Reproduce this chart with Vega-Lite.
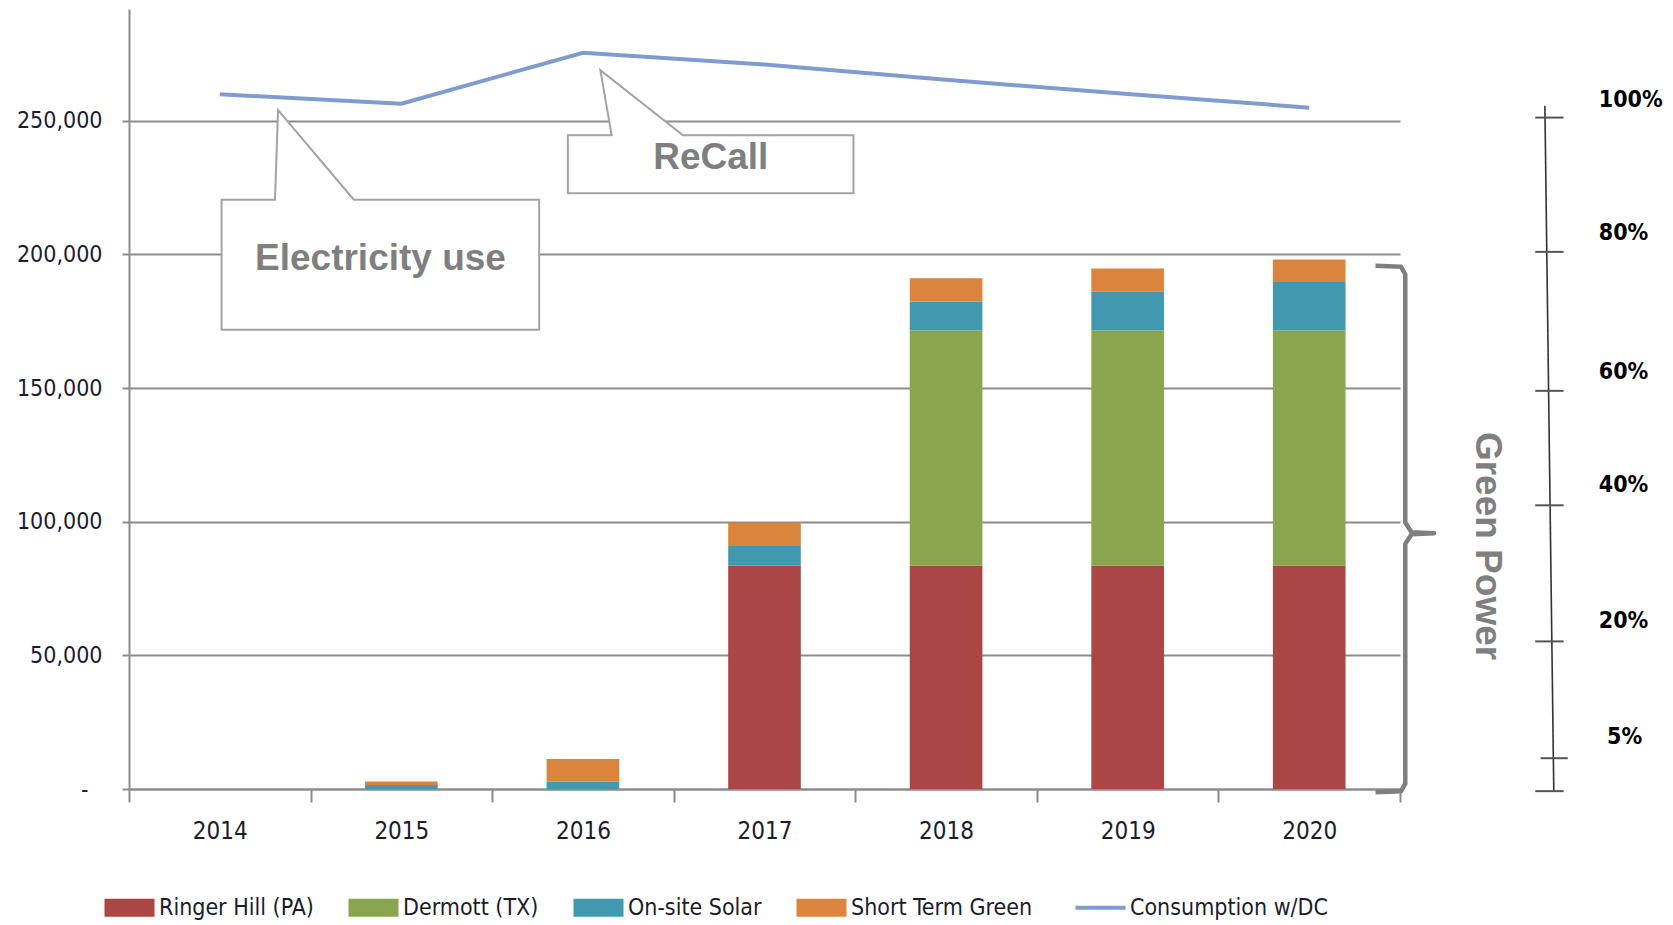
{
  "$schema": "https://vega.github.io/schema/vega-lite/v6.json",
  "width": 1271,
  "height": 780,
  "autosize": {"type": "none"},
  "padding": {"left": 129, "top": 9, "right": 273, "bottom": 136},
  "background": "white",
  "datasets": {
    "green": [
      {"year": "2015", "source": "On-site Solar", "stack_rank": 3, "value": 1500},
      {"year": "2015", "source": "Short Term Green", "stack_rank": 4, "value": 1350},
      {"year": "2016", "source": "On-site Solar", "stack_rank": 3, "value": 2700},
      {"year": "2016", "source": "Short Term Green", "stack_rank": 4, "value": 8500},
      {"year": "2017", "source": "Ringer Hill (PA)", "stack_rank": 1, "value": 83600},
      {"year": "2017", "source": "On-site Solar", "stack_rank": 3, "value": 7300},
      {"year": "2017", "source": "Short Term Green", "stack_rank": 4, "value": 8700},
      {"year": "2018", "source": "Ringer Hill (PA)", "stack_rank": 1, "value": 83600},
      {"year": "2018", "source": "Dermott (TX)", "stack_rank": 2, "value": 87900},
      {"year": "2018", "source": "On-site Solar", "stack_rank": 3, "value": 10900},
      {"year": "2018", "source": "Short Term Green", "stack_rank": 4, "value": 8700},
      {"year": "2019", "source": "Ringer Hill (PA)", "stack_rank": 1, "value": 83600},
      {"year": "2019", "source": "Dermott (TX)", "stack_rank": 2, "value": 87900},
      {"year": "2019", "source": "On-site Solar", "stack_rank": 3, "value": 14600},
      {"year": "2019", "source": "Short Term Green", "stack_rank": 4, "value": 8600},
      {"year": "2020", "source": "Ringer Hill (PA)", "stack_rank": 1, "value": 83600},
      {"year": "2020", "source": "Dermott (TX)", "stack_rank": 2, "value": 87900},
      {"year": "2020", "source": "On-site Solar", "stack_rank": 3, "value": 18200},
      {"year": "2020", "source": "Short Term Green", "stack_rank": 4, "value": 8400}
    ],
    "consumption": [
      {"year": "2014", "value": 259900},
      {"year": "2015", "value": 256400},
      {"year": "2016", "value": 275400},
      {"year": "2017", "value": 271000},
      {"year": "2018", "value": 265300},
      {"year": "2019", "value": 260000},
      {"year": "2020", "value": 254900}
    ],
    "callouts": [
      {"id": "elec", "i": 0, "u": 2014.010, "value": 220480},
      {"id": "elec", "i": 1, "u": 2014.304, "value": 220480},
      {"id": "elec", "i": 2, "u": 2014.321, "value": 253970},
      {"id": "elec", "i": 3, "u": 2014.738, "value": 220480},
      {"id": "elec", "i": 4, "u": 2015.759, "value": 220480},
      {"id": "elec", "i": 5, "u": 2015.759, "value": 171840},
      {"id": "elec", "i": 6, "u": 2014.010, "value": 171840},
      {"id": "recall", "i": 0, "u": 2015.917, "value": 244600},
      {"id": "recall", "i": 1, "u": 2016.158, "value": 244600},
      {"id": "recall", "i": 2, "u": 2016.096, "value": 268920},
      {"id": "recall", "i": 3, "u": 2016.551, "value": 244600},
      {"id": "recall", "i": 4, "u": 2017.490, "value": 244600},
      {"id": "recall", "i": 5, "u": 2017.490, "value": 222870},
      {"id": "recall", "i": 6, "u": 2015.917, "value": 222870}
    ],
    "callout_text": [
      {"label": "Electricity use", "u": 2014.885, "value": 198150},
      {"label": "ReCall", "u": 2016.704, "value": 236030}
    ],
    "bracket": [
      {"i": 0, "u": 2020.365, "value": 195760},
      {"i": 1, "u": 2020.506, "value": 195360},
      {"i": 2, "u": 2020.529, "value": 192570},
      {"i": 3, "u": 2020.529, "value": 99680},
      {"i": 4, "u": 2020.564, "value": 96090},
      {"i": 5, "u": 2020.688, "value": 95690},
      {"i": 6, "u": 2020.564, "value": 95290},
      {"i": 7, "u": 2020.529, "value": 91700},
      {"i": 8, "u": 2020.529, "value": 1990},
      {"i": 9, "u": 2020.506, "value": -800},
      {"i": 10, "u": 2020.365, "value": -1200}
    ],
    "green_power": [
      {"label": "Green Power", "u": 2020.981, "value": 90900}
    ],
    "pct_axis": [
      {"u": 2021.298, "u2": 2021.347, "value": 255570, "value2": -800}
    ],
    "pct_ticks": [
      {"pct": "100%", "u": 2021.245, "u2": 2021.401, "value": 251180},
      {"pct": "80%", "u": 2021.245, "u2": 2021.401, "value": 200940},
      {"pct": "60%", "u": 2021.245, "u2": 2021.401, "value": 148950},
      {"pct": "40%", "u": 2021.245, "u2": 2021.401, "value": 106130},
      {"pct": "20%", "u": 2021.245, "u2": 2021.401, "value": 55220},
      {"pct": "5%", "u": 2021.274, "u2": 2021.424, "value": 11520},
      {"pct": "0", "u": 2021.245, "u2": 2021.401, "value": -800}
    ],
    "pct_labels": [
      {"pct": "100%", "u": 2021.595, "value": 257880},
      {"pct": "80%", "u": 2021.595, "value": 208000},
      {"pct": "60%", "u": 2021.595, "value": 156010},
      {"pct": "40%", "u": 2021.595, "value": 113710},
      {"pct": "20%", "u": 2021.595, "value": 62990},
      {"pct": "5%", "u": 2021.640, "value": 19460}
    ]
  },
  "layer": [
    {
      "layer": [
        {
          "data": {"name": "green"},
          "mark": {"type": "bar", "width": {"band": 0.4}},
          "encoding": {
            "x": {
              "field": "year", "type": "ordinal",
              "scale": {"domain": ["2014", "2015", "2016", "2017", "2018", "2019", "2020"], "paddingInner": 0, "paddingOuter": 0},
              "axis": {"title": null, "tickBand": "extent", "labelAngle": 0, "tickSize": 13, "labelPadding": 17, "grid": false, "labelFontSize": 24}
            },
            "y": {
              "field": "value", "type": "quantitative", "stack": "zero", "title": null,
              "scale": {"domain": [0, 291800], "nice": false},
              "axis": {
                "values": [0, 50000, 100000, 150000, 200000, 250000],
                "tickSize": 7, "grid": true, "labelFontSize": 23,
                "labelPadding": {"condition": {"test": "datum.value === 0", "value": 34}, "value": 20},
                "labelExpr": "datum.value === 0 ? '-' : format(datum.value, ',')"
              }
            },
            "order": {"field": "stack_rank", "type": "quantitative", "sort": "ascending"},
            "color": {
              "field": "source", "type": "nominal",
              "scale": {
                "domain": ["Ringer Hill (PA)", "Dermott (TX)", "On-site Solar", "Short Term Green", "Consumption w/DC"],
                "range": ["#aa4643", "#89a54e", "#4198af", "#db843d", "#7f9bd0"]
              },
              "legend": {
                "title": null, "orient": "none", "legendX": -11, "legendY": 887,
                "direction": "horizontal", "columns": 5,
                "symbolSize": 2500, "symbolType": "M-1,-0.36H1V0.36H-1Z",
                "labelFont": "DejaVu Sans Condensed", "labelFontSize": 23, "labelColor": "#1c1c2c",
                "labelOffset": 18, "columnPadding": 34, "labelLimit": 400, "padding": 0,
                "encode": {
                  "symbols": {
                    "update": {
                      "shape": {"signal": "datum.value === 'Consumption w/DC' ? 'stroke' : 'M-1,-0.36H1V0.36H-1Z'"},
                      "fill": {"signal": "datum.value === 'Consumption w/DC' ? 'transparent' : scale('color', datum.value)"},
                      "stroke": {"signal": "scale('color', datum.value)"},
                      "strokeWidth": {"signal": "datum.value === 'Consumption w/DC' ? 4 : 0"},
                      "opacity": {"value": 1}
                    }
                  }
                }
              }
            }
          }
        },
        {
          "data": {"name": "consumption"},
          "mark": {"type": "line", "strokeWidth": 4},
          "encoding": {
            "x": {"field": "year", "type": "ordinal"},
            "y": {"field": "value", "type": "quantitative", "title": null},
            "color": {"datum": "Consumption w/DC"}
          }
        }
      ]
    },
    {
      "layer": [
        {
          "data": {"name": "callouts"},
          "mark": {"type": "line", "interpolate": "linear-closed", "fill": "white", "stroke": "#a3a3a3", "strokeWidth": 2},
          "encoding": {
            "x": {"field": "u", "type": "quantitative", "scale": {"domain": [2013.5, 2020.5], "nice": false, "zero": false}, "axis": null},
            "y": {"field": "value", "type": "quantitative", "title": null},
            "detail": {"field": "id"},
            "order": {"field": "i"}
          }
        },
        {
          "data": {"name": "callout_text"},
          "mark": {"type": "text", "font": "Liberation Sans", "fontSize": 37, "fontWeight": "bold", "color": "#7f7f7f", "align": "center", "baseline": "middle"},
          "encoding": {
            "x": {"field": "u", "type": "quantitative", "axis": null},
            "y": {"field": "value", "type": "quantitative", "title": null},
            "text": {"field": "label"}
          }
        },
        {
          "data": {"name": "bracket"},
          "mark": {"type": "line", "stroke": "#7f7f7f", "strokeWidth": 4.5, "strokeJoin": "round"},
          "encoding": {
            "x": {"field": "u", "type": "quantitative", "axis": null},
            "y": {"field": "value", "type": "quantitative", "title": null},
            "order": {"field": "i"}
          }
        },
        {
          "data": {"name": "green_power"},
          "mark": {"type": "text", "font": "Liberation Sans", "fontSize": 37, "fontWeight": "bold", "color": "#7f7f7f", "align": "center", "baseline": "middle", "angle": 90},
          "encoding": {
            "x": {"field": "u", "type": "quantitative", "axis": null},
            "y": {"field": "value", "type": "quantitative", "title": null},
            "text": {"field": "label"}
          }
        },
        {
          "data": {"name": "pct_axis"},
          "mark": {"type": "rule", "color": "#333333", "strokeWidth": 1.6},
          "encoding": {
            "x": {"field": "u", "type": "quantitative", "axis": null},
            "x2": {"field": "u2"},
            "y": {"field": "value", "type": "quantitative", "title": null},
            "y2": {"field": "value2"}
          }
        },
        {
          "data": {"name": "pct_ticks"},
          "mark": {"type": "rule", "color": "#555555", "strokeWidth": 2},
          "encoding": {
            "x": {"field": "u", "type": "quantitative", "axis": null},
            "x2": {"field": "u2"},
            "y": {"field": "value", "type": "quantitative", "title": null}
          }
        },
        {
          "data": {"name": "pct_labels"},
          "mark": {"type": "text", "font": "DejaVu Sans Condensed", "fontSize": 23, "fontWeight": "bold", "color": "#000000", "align": "left", "baseline": "middle"},
          "encoding": {
            "x": {"field": "u", "type": "quantitative", "axis": null},
            "y": {"field": "value", "type": "quantitative", "title": null},
            "text": {"field": "pct"}
          }
        }
      ]
    }
  ],
  "resolve": {"scale": {"x": "independent"}},
  "config": {
    "view": {"stroke": null},
    "axis": {
      "labelFont": "DejaVu Sans Condensed",
      "labelFontSize": 24,
      "labelColor": "#1c1c2c",
      "domainColor": "#8c8c8c",
      "domainWidth": 2,
      "tickColor": "#8c8c8c",
      "tickWidth": 2,
      "gridColor": "#8c8c8c",
      "gridWidth": 2,
      "gridOpacity": 1
    }
  }
}
